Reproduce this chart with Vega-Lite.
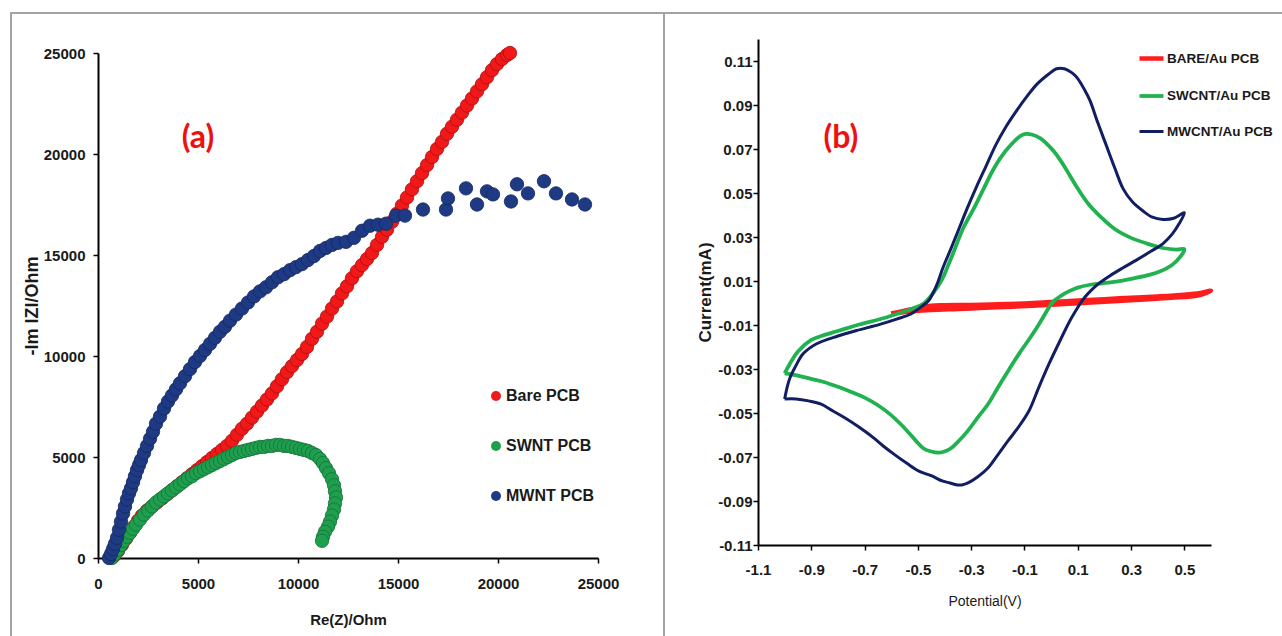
{
  "$schema": "https://vega.github.io/schema/vega-lite/v6.json",
  "padding": {"left": 10, "top": 12, "right": 0, "bottom": 0},
  "spacing": 0,
  "bounds": "flush",
  "background": "white",
  "resolve": {"scale": {"color": "independent", "stroke": "independent", "strokeWidth": "independent"}, "legend": {"color": "independent", "stroke": "independent", "strokeWidth": "independent"}},
  "config": {
    "view": {"stroke": "#a3a3a3", "strokeWidth": 2},
    "axis": {"grid": false, "domainColor": "#000000", "domainWidth": 2, "tickColor": "#000000", "tickWidth": 1.5, "tickSize": 5, "labelColor": "#1a1a1a", "titleColor": "#1a1a1a", "labelFlush": false, "labelOverlap": false, "labelFont": "Liberation Sans", "labelFontWeight": "bold", "labelFontSize": 15, "titleFont": "Liberation Sans", "titleFontWeight": "bold", "titleFontSize": 15},
    "legend": {"labelFont": "Liberation Sans", "labelFontWeight": "bold", "labelColor": "#1a1a1a"}
  },
  "datasets": {
    "eis": [
      {"s":"Bare PCB","re":800,"im":100},{"s":"Bare PCB","re":1000,"im":350},{"s":"Bare PCB","re":1200,"im":650},{"s":"Bare PCB","re":1400,"im":950},{"s":"Bare PCB","re":1600,"im":1250},{"s":"Bare PCB","re":1800,"im":1550},{"s":"Bare PCB","re":2000,"im":1850},{"s":"Bare PCB","re":2200,"im":2100},{"s":"Bare PCB","re":2450,"im":2350},{"s":"Bare PCB","re":2700,"im":2550},{"s":"Bare PCB","re":2950,"im":2750},{"s":"Bare PCB","re":3200,"im":2950},{"s":"Bare PCB","re":3450,"im":3150},{"s":"Bare PCB","re":3700,"im":3350},{"s":"Bare PCB","re":3950,"im":3550},{"s":"Bare PCB","re":4200,"im":3750},{"s":"Bare PCB","re":4450,"im":3950},{"s":"Bare PCB","re":4700,"im":4150},{"s":"Bare PCB","re":4950,"im":4350},{"s":"Bare PCB","re":5200,"im":4550},{"s":"Bare PCB","re":5450,"im":4750},{"s":"Bare PCB","re":5700,"im":4950},{"s":"Bare PCB","re":5950,"im":5150},{"s":"Bare PCB","re":6200,"im":5350},{"s":"Bare PCB","re":6450,"im":5550},{"s":"Bare PCB","re":6700,"im":5800},{"s":"Bare PCB","re":6950,"im":6100},{"s":"Bare PCB","re":7200,"im":6400},{"s":"Bare PCB","re":7450,"im":6650},{"s":"Bare PCB","re":7700,"im":6950},{"s":"Bare PCB","re":7950,"im":7250},{"s":"Bare PCB","re":8200,"im":7550},{"s":"Bare PCB","re":8450,"im":7850},{"s":"Bare PCB","re":8700,"im":8150},{"s":"Bare PCB","re":8950,"im":8500},{"s":"Bare PCB","re":9200,"im":8850},{"s":"Bare PCB","re":9450,"im":9200},{"s":"Bare PCB","re":9700,"im":9500},{"s":"Bare PCB","re":9950,"im":9800},{"s":"Bare PCB","re":10200,"im":10100},{"s":"Bare PCB","re":10450,"im":10450},{"s":"Bare PCB","re":10700,"im":10850},{"s":"Bare PCB","re":10950,"im":11200},{"s":"Bare PCB","re":11200,"im":11600},{"s":"Bare PCB","re":11450,"im":11950},{"s":"Bare PCB","re":11700,"im":12350},{"s":"Bare PCB","re":11950,"im":12700},{"s":"Bare PCB","re":12200,"im":13100},{"s":"Bare PCB","re":12450,"im":13450},{"s":"Bare PCB","re":12700,"im":13850},{"s":"Bare PCB","re":12950,"im":14200},{"s":"Bare PCB","re":13200,"im":14500},{"s":"Bare PCB","re":13450,"im":14800},{"s":"Bare PCB","re":13700,"im":15100},{"s":"Bare PCB","re":13950,"im":15500},{"s":"Bare PCB","re":14200,"im":15900},{"s":"Bare PCB","re":14450,"im":16250},{"s":"Bare PCB","re":14700,"im":16650},{"s":"Bare PCB","re":14950,"im":17050},{"s":"Bare PCB","re":15200,"im":17450},{"s":"Bare PCB","re":15450,"im":17850},{"s":"Bare PCB","re":15700,"im":18250},{"s":"Bare PCB","re":15950,"im":18650},{"s":"Bare PCB","re":16200,"im":19050},{"s":"Bare PCB","re":16450,"im":19450},{"s":"Bare PCB","re":16700,"im":19850},{"s":"Bare PCB","re":16950,"im":20250},{"s":"Bare PCB","re":17200,"im":20600},{"s":"Bare PCB","re":17450,"im":21000},{"s":"Bare PCB","re":17700,"im":21350},{"s":"Bare PCB","re":17950,"im":21700},{"s":"Bare PCB","re":18200,"im":22050},{"s":"Bare PCB","re":18450,"im":22400},{"s":"Bare PCB","re":18700,"im":22750},{"s":"Bare PCB","re":18950,"im":23100},{"s":"Bare PCB","re":19200,"im":23450},{"s":"Bare PCB","re":19450,"im":23800},{"s":"Bare PCB","re":19700,"im":24150},{"s":"Bare PCB","re":19950,"im":24450},{"s":"Bare PCB","re":20200,"im":24700},{"s":"Bare PCB","re":20450,"im":24900},{"s":"Bare PCB","re":20600,"im":25000},
      {"s":"SWNT PCB","re":700,"im":0},{"s":"SWNT PCB","re":850,"im":200},{"s":"SWNT PCB","re":1000,"im":400},{"s":"SWNT PCB","re":1150,"im":650},{"s":"SWNT PCB","re":1300,"im":850},{"s":"SWNT PCB","re":1450,"im":1050},{"s":"SWNT PCB","re":1600,"im":1250},{"s":"SWNT PCB","re":1750,"im":1450},{"s":"SWNT PCB","re":1900,"im":1650},{"s":"SWNT PCB","re":2100,"im":1900},{"s":"SWNT PCB","re":2300,"im":2150},{"s":"SWNT PCB","re":2500,"im":2350},{"s":"SWNT PCB","re":2700,"im":2550},{"s":"SWNT PCB","re":2900,"im":2750},{"s":"SWNT PCB","re":3100,"im":2900},{"s":"SWNT PCB","re":3300,"im":3050},{"s":"SWNT PCB","re":3500,"im":3200},{"s":"SWNT PCB","re":3700,"im":3350},{"s":"SWNT PCB","re":3900,"im":3500},{"s":"SWNT PCB","re":4100,"im":3650},{"s":"SWNT PCB","re":4300,"im":3800},{"s":"SWNT PCB","re":4500,"im":3950},{"s":"SWNT PCB","re":4700,"im":4050},{"s":"SWNT PCB","re":4900,"im":4200},{"s":"SWNT PCB","re":5100,"im":4300},{"s":"SWNT PCB","re":5300,"im":4400},{"s":"SWNT PCB","re":5500,"im":4500},{"s":"SWNT PCB","re":5700,"im":4600},{"s":"SWNT PCB","re":5900,"im":4700},{"s":"SWNT PCB","re":6100,"im":4800},{"s":"SWNT PCB","re":6300,"im":4900},{"s":"SWNT PCB","re":6500,"im":5000},{"s":"SWNT PCB","re":6700,"im":5100},{"s":"SWNT PCB","re":6900,"im":5200},{"s":"SWNT PCB","re":7100,"im":5250},{"s":"SWNT PCB","re":7300,"im":5300},{"s":"SWNT PCB","re":7500,"im":5350},{"s":"SWNT PCB","re":7700,"im":5400},{"s":"SWNT PCB","re":7900,"im":5450},{"s":"SWNT PCB","re":8100,"im":5500},{"s":"SWNT PCB","re":8300,"im":5500},{"s":"SWNT PCB","re":8500,"im":5550},{"s":"SWNT PCB","re":8700,"im":5550},{"s":"SWNT PCB","re":8900,"im":5600},{"s":"SWNT PCB","re":9100,"im":5600},{"s":"SWNT PCB","re":9300,"im":5550},{"s":"SWNT PCB","re":9500,"im":5550},{"s":"SWNT PCB","re":9700,"im":5500},{"s":"SWNT PCB","re":9900,"im":5450},{"s":"SWNT PCB","re":10100,"im":5400},{"s":"SWNT PCB","re":10300,"im":5350},{"s":"SWNT PCB","re":10500,"im":5300},{"s":"SWNT PCB","re":10700,"im":5200},{"s":"SWNT PCB","re":10900,"im":5100},{"s":"SWNT PCB","re":11100,"im":4900},{"s":"SWNT PCB","re":11250,"im":4700},{"s":"SWNT PCB","re":11400,"im":4450},{"s":"SWNT PCB","re":11550,"im":4200},{"s":"SWNT PCB","re":11700,"im":3900},{"s":"SWNT PCB","re":11800,"im":3600},{"s":"SWNT PCB","re":11850,"im":3300},{"s":"SWNT PCB","re":11900,"im":3000},{"s":"SWNT PCB","re":11850,"im":2700},{"s":"SWNT PCB","re":11800,"im":2400},{"s":"SWNT PCB","re":11700,"im":2100},{"s":"SWNT PCB","re":11600,"im":1800},{"s":"SWNT PCB","re":11500,"im":1550},{"s":"SWNT PCB","re":11350,"im":1300},{"s":"SWNT PCB","re":11250,"im":1050},{"s":"SWNT PCB","re":11200,"im":850},
      {"s":"MWNT PCB","re":550,"im":0},{"s":"MWNT PCB","re":650,"im":200},{"s":"MWNT PCB","re":750,"im":450},{"s":"MWNT PCB","re":850,"im":700},{"s":"MWNT PCB","re":950,"im":1000},{"s":"MWNT PCB","re":1050,"im":1400},{"s":"MWNT PCB","re":1150,"im":1800},{"s":"MWNT PCB","re":1250,"im":2200},{"s":"MWNT PCB","re":1350,"im":2550},{"s":"MWNT PCB","re":1450,"im":2900},{"s":"MWNT PCB","re":1550,"im":3200},{"s":"MWNT PCB","re":1650,"im":3450},{"s":"MWNT PCB","re":1750,"im":3750},{"s":"MWNT PCB","re":1850,"im":4050},{"s":"MWNT PCB","re":1950,"im":4350},{"s":"MWNT PCB","re":2050,"im":4600},{"s":"MWNT PCB","re":2150,"im":4850},{"s":"MWNT PCB","re":2300,"im":5200},{"s":"MWNT PCB","re":2450,"im":5550},{"s":"MWNT PCB","re":2600,"im":5900},{"s":"MWNT PCB","re":2750,"im":6250},{"s":"MWNT PCB","re":2900,"im":6650},{"s":"MWNT PCB","re":3100,"im":7000},{"s":"MWNT PCB","re":3300,"im":7400},{"s":"MWNT PCB","re":3500,"im":7750},{"s":"MWNT PCB","re":3700,"im":8050},{"s":"MWNT PCB","re":3900,"im":8350},{"s":"MWNT PCB","re":4100,"im":8650},{"s":"MWNT PCB","re":4350,"im":9000},{"s":"MWNT PCB","re":4600,"im":9350},{"s":"MWNT PCB","re":4850,"im":9700},{"s":"MWNT PCB","re":5100,"im":10000},{"s":"MWNT PCB","re":5350,"im":10300},{"s":"MWNT PCB","re":5600,"im":10600},{"s":"MWNT PCB","re":5850,"im":10900},{"s":"MWNT PCB","re":6100,"im":11200},{"s":"MWNT PCB","re":6350,"im":11450},{"s":"MWNT PCB","re":6600,"im":11750},{"s":"MWNT PCB","re":6900,"im":12050},{"s":"MWNT PCB","re":7200,"im":12350},{"s":"MWNT PCB","re":7500,"im":12650},{"s":"MWNT PCB","re":7800,"im":12950},{"s":"MWNT PCB","re":8100,"im":13200},{"s":"MWNT PCB","re":8400,"im":13400},{"s":"MWNT PCB","re":8700,"im":13650},{"s":"MWNT PCB","re":9000,"im":13900},{"s":"MWNT PCB","re":9300,"im":14050},{"s":"MWNT PCB","re":9600,"im":14250},{"s":"MWNT PCB","re":9900,"im":14400},{"s":"MWNT PCB","re":10200,"im":14550},{"s":"MWNT PCB","re":10500,"im":14750},{"s":"MWNT PCB","re":10800,"im":14950},{"s":"MWNT PCB","re":11100,"im":15200},{"s":"MWNT PCB","re":11400,"im":15350},{"s":"MWNT PCB","re":11700,"im":15500},{"s":"MWNT PCB","re":12000,"im":15600},{"s":"MWNT PCB","re":12400,"im":15650},{"s":"MWNT PCB","re":12800,"im":15850},{"s":"MWNT PCB","re":13200,"im":16200},{"s":"MWNT PCB","re":13600,"im":16450},{"s":"MWNT PCB","re":14000,"im":16500},{"s":"MWNT PCB","re":14400,"im":16550},{"s":"MWNT PCB","re":14900,"im":16950},{"s":"MWNT PCB","re":15350,"im":16950},{"s":"MWNT PCB","re":16250,"im":17250},{"s":"MWNT PCB","re":17400,"im":17250},{"s":"MWNT PCB","re":17500,"im":17800},{"s":"MWNT PCB","re":18400,"im":18300},{"s":"MWNT PCB","re":18950,"im":17500},{"s":"MWNT PCB","re":19450,"im":18150},{"s":"MWNT PCB","re":19750,"im":18000},{"s":"MWNT PCB","re":20650,"im":17650},{"s":"MWNT PCB","re":20950,"im":18500},{"s":"MWNT PCB","re":21500,"im":18050},{"s":"MWNT PCB","re":22300,"im":18650},{"s":"MWNT PCB","re":22900,"im":18050},{"s":"MWNT PCB","re":23700,"im":17750},{"s":"MWNT PCB","re":24350,"im":17500}
    ],
    "cv": [
      {"s":"BARE/Au PCB","k":0,"v":-0.6,"i":-0.0048},{"s":"BARE/Au PCB","k":1,"v":-0.55,"i":-0.0035},{"s":"BARE/Au PCB","k":2,"v":-0.5,"i":-0.0022},{"s":"BARE/Au PCB","k":3,"v":-0.45,"i":-0.0012},{"s":"BARE/Au PCB","k":4,"v":-0.4,"i":-0.001},{"s":"BARE/Au PCB","k":5,"v":-0.3,"i":-0.0009},{"s":"BARE/Au PCB","k":6,"v":-0.2,"i":-0.0006},{"s":"BARE/Au PCB","k":7,"v":-0.1,"i":-0.0002},{"s":"BARE/Au PCB","k":8,"v":0.0,"i":0.0004},{"s":"BARE/Au PCB","k":9,"v":0.1,"i":0.0011},{"s":"BARE/Au PCB","k":10,"v":0.2,"i":0.0017},{"s":"BARE/Au PCB","k":11,"v":0.3,"i":0.0024},{"s":"BARE/Au PCB","k":12,"v":0.4,"i":0.003},{"s":"BARE/Au PCB","k":13,"v":0.5,"i":0.0038},{"s":"BARE/Au PCB","k":14,"v":0.56,"i":0.0046},{"s":"BARE/Au PCB","k":15,"v":0.6,"i":0.0056},{"s":"BARE/Au PCB","k":16,"v":0.55,"i":0.0034},{"s":"BARE/Au PCB","k":17,"v":0.45,"i":0.0024},{"s":"BARE/Au PCB","k":18,"v":0.35,"i":0.0016},{"s":"BARE/Au PCB","k":19,"v":0.25,"i":0.0009},{"s":"BARE/Au PCB","k":20,"v":0.15,"i":0.0002},{"s":"BARE/Au PCB","k":21,"v":0.05,"i":-0.0005},{"s":"BARE/Au PCB","k":22,"v":-0.05,"i":-0.0011},{"s":"BARE/Au PCB","k":23,"v":-0.15,"i":-0.0017},{"s":"BARE/Au PCB","k":24,"v":-0.25,"i":-0.0022},{"s":"BARE/Au PCB","k":25,"v":-0.35,"i":-0.0027},{"s":"BARE/Au PCB","k":26,"v":-0.45,"i":-0.0032},{"s":"BARE/Au PCB","k":27,"v":-0.52,"i":-0.0038},{"s":"BARE/Au PCB","k":28,"v":-0.57,"i":-0.0044},{"s":"BARE/Au PCB","k":29,"v":-0.6,"i":-0.0048},
      {"s":"SWCNT/Au PCB","k":0,"v":-1.0,"i":-0.032},{"s":"SWCNT/Au PCB","k":1,"v":-0.975,"i":-0.0265},{"s":"SWCNT/Au PCB","k":2,"v":-0.95,"i":-0.022},{"s":"SWCNT/Au PCB","k":3,"v":-0.9,"i":-0.0168},{"s":"SWCNT/Au PCB","k":4,"v":-0.85,"i":-0.0145},{"s":"SWCNT/Au PCB","k":5,"v":-0.8,"i":-0.0127},{"s":"SWCNT/Au PCB","k":6,"v":-0.72,"i":-0.0098},{"s":"SWCNT/Au PCB","k":7,"v":-0.64,"i":-0.0073},{"s":"SWCNT/Au PCB","k":8,"v":-0.58,"i":-0.005},{"s":"SWCNT/Au PCB","k":9,"v":-0.526,"i":-0.0028},{"s":"SWCNT/Au PCB","k":10,"v":-0.477,"i":-0.0001},{"s":"SWCNT/Au PCB","k":11,"v":-0.44,"i":0.005},{"s":"SWCNT/Au PCB","k":12,"v":-0.41,"i":0.0105},{"s":"SWCNT/Au PCB","k":13,"v":-0.39,"i":0.016},{"s":"SWCNT/Au PCB","k":14,"v":-0.36,"i":0.025},{"s":"SWCNT/Au PCB","k":15,"v":-0.33,"i":0.034},{"s":"SWCNT/Au PCB","k":16,"v":-0.29,"i":0.043},{"s":"SWCNT/Au PCB","k":17,"v":-0.253,"i":0.052},{"s":"SWCNT/Au PCB","k":18,"v":-0.22,"i":0.06},{"s":"SWCNT/Au PCB","k":19,"v":-0.19,"i":0.066},{"s":"SWCNT/Au PCB","k":20,"v":-0.15,"i":0.072},{"s":"SWCNT/Au PCB","k":21,"v":-0.12,"i":0.0755},{"s":"SWCNT/Au PCB","k":22,"v":-0.1,"i":0.0768},{"s":"SWCNT/Au PCB","k":23,"v":-0.07,"i":0.0765},{"s":"SWCNT/Au PCB","k":24,"v":-0.04,"i":0.0748},{"s":"SWCNT/Au PCB","k":25,"v":-0.02,"i":0.0728},{"s":"SWCNT/Au PCB","k":26,"v":0.01,"i":0.069},{"s":"SWCNT/Au PCB","k":27,"v":0.037,"i":0.0645},{"s":"SWCNT/Au PCB","k":28,"v":0.07,"i":0.058},{"s":"SWCNT/Au PCB","k":29,"v":0.1,"i":0.052},{"s":"SWCNT/Au PCB","k":30,"v":0.14,"i":0.045},{"s":"SWCNT/Au PCB","k":31,"v":0.19,"i":0.0387},{"s":"SWCNT/Au PCB","k":32,"v":0.24,"i":0.0335},{"s":"SWCNT/Au PCB","k":33,"v":0.3,"i":0.0296},{"s":"SWCNT/Au PCB","k":34,"v":0.36,"i":0.027},{"s":"SWCNT/Au PCB","k":35,"v":0.42,"i":0.025},{"s":"SWCNT/Au PCB","k":36,"v":0.47,"i":0.0243},{"s":"SWCNT/Au PCB","k":37,"v":0.5,"i":0.0245},{"s":"SWCNT/Au PCB","k":38,"v":0.47,"i":0.019},{"s":"SWCNT/Au PCB","k":39,"v":0.43,"i":0.0155},{"s":"SWCNT/Au PCB","k":40,"v":0.375,"i":0.013},{"s":"SWCNT/Au PCB","k":41,"v":0.3,"i":0.011},{"s":"SWCNT/Au PCB","k":42,"v":0.23,"i":0.0095},{"s":"SWCNT/Au PCB","k":43,"v":0.146,"i":0.0083},{"s":"SWCNT/Au PCB","k":44,"v":0.1,"i":0.007},{"s":"SWCNT/Au PCB","k":45,"v":0.07,"i":0.0055},{"s":"SWCNT/Au PCB","k":46,"v":0.04,"i":0.0035},{"s":"SWCNT/Au PCB","k":47,"v":0.007,"i":0.0005},{"s":"SWCNT/Au PCB","k":48,"v":-0.023,"i":-0.005},{"s":"SWCNT/Au PCB","k":49,"v":-0.045,"i":-0.0095},{"s":"SWCNT/Au PCB","k":50,"v":-0.08,"i":-0.016},{"s":"SWCNT/Au PCB","k":51,"v":-0.12,"i":-0.023},{"s":"SWCNT/Au PCB","k":52,"v":-0.162,"i":-0.031},{"s":"SWCNT/Au PCB","k":53,"v":-0.2,"i":-0.0385},{"s":"SWCNT/Au PCB","k":54,"v":-0.237,"i":-0.046},{"s":"SWCNT/Au PCB","k":55,"v":-0.275,"i":-0.052},{"s":"SWCNT/Au PCB","k":56,"v":-0.312,"i":-0.058},{"s":"SWCNT/Au PCB","k":57,"v":-0.345,"i":-0.0625},{"s":"SWCNT/Au PCB","k":58,"v":-0.376,"i":-0.066},{"s":"SWCNT/Au PCB","k":59,"v":-0.4,"i":-0.0675},{"s":"SWCNT/Au PCB","k":60,"v":-0.42,"i":-0.068},{"s":"SWCNT/Au PCB","k":61,"v":-0.45,"i":-0.0675},{"s":"SWCNT/Au PCB","k":62,"v":-0.48,"i":-0.066},{"s":"SWCNT/Au PCB","k":63,"v":-0.505,"i":-0.063},{"s":"SWCNT/Au PCB","k":64,"v":-0.53,"i":-0.0595},{"s":"SWCNT/Au PCB","k":65,"v":-0.565,"i":-0.055},{"s":"SWCNT/Au PCB","k":66,"v":-0.605,"i":-0.0505},{"s":"SWCNT/Au PCB","k":67,"v":-0.65,"i":-0.0465},{"s":"SWCNT/Au PCB","k":68,"v":-0.7,"i":-0.043},{"s":"SWCNT/Au PCB","k":69,"v":-0.75,"i":-0.0405},{"s":"SWCNT/Au PCB","k":70,"v":-0.803,"i":-0.038},{"s":"SWCNT/Au PCB","k":71,"v":-0.85,"i":-0.036},{"s":"SWCNT/Au PCB","k":72,"v":-0.897,"i":-0.0346},{"s":"SWCNT/Au PCB","k":73,"v":-0.95,"i":-0.033},{"s":"SWCNT/Au PCB","k":74,"v":-1.0,"i":-0.032},
      {"s":"MWCNT/Au PCB","k":0,"v":-1.0,"i":-0.0436},{"s":"MWCNT/Au PCB","k":1,"v":-0.99,"i":-0.038},{"s":"MWCNT/Au PCB","k":2,"v":-0.98,"i":-0.034},{"s":"MWCNT/Au PCB","k":3,"v":-0.96,"i":-0.029},{"s":"MWCNT/Au PCB","k":4,"v":-0.93,"i":-0.023},{"s":"MWCNT/Au PCB","k":5,"v":-0.88,"i":-0.0185},{"s":"MWCNT/Au PCB","k":6,"v":-0.8,"i":-0.015},{"s":"MWCNT/Au PCB","k":7,"v":-0.73,"i":-0.0125},{"s":"MWCNT/Au PCB","k":8,"v":-0.64,"i":-0.0096},{"s":"MWCNT/Au PCB","k":9,"v":-0.58,"i":-0.0073},{"s":"MWCNT/Au PCB","k":10,"v":-0.526,"i":-0.005},{"s":"MWCNT/Au PCB","k":11,"v":-0.49,"i":-0.002},{"s":"MWCNT/Au PCB","k":12,"v":-0.46,"i":0.001},{"s":"MWCNT/Au PCB","k":13,"v":-0.43,"i":0.008},{"s":"MWCNT/Au PCB","k":14,"v":-0.406,"i":0.016},{"s":"MWCNT/Au PCB","k":15,"v":-0.375,"i":0.025},{"s":"MWCNT/Au PCB","k":16,"v":-0.345,"i":0.034},{"s":"MWCNT/Au PCB","k":17,"v":-0.315,"i":0.043},{"s":"MWCNT/Au PCB","k":18,"v":-0.283,"i":0.052},{"s":"MWCNT/Au PCB","k":19,"v":-0.245,"i":0.062},{"s":"MWCNT/Au PCB","k":20,"v":-0.207,"i":0.072},{"s":"MWCNT/Au PCB","k":21,"v":-0.17,"i":0.08},{"s":"MWCNT/Au PCB","k":22,"v":-0.132,"i":0.087},{"s":"MWCNT/Au PCB","k":23,"v":-0.09,"i":0.094},{"s":"MWCNT/Au PCB","k":24,"v":-0.053,"i":0.0995},{"s":"MWCNT/Au PCB","k":25,"v":-0.01,"i":0.104},{"s":"MWCNT/Au PCB","k":26,"v":0.02,"i":0.1065},{"s":"MWCNT/Au PCB","k":27,"v":0.05,"i":0.1065},{"s":"MWCNT/Au PCB","k":28,"v":0.08,"i":0.1045},{"s":"MWCNT/Au PCB","k":29,"v":0.1,"i":0.102},{"s":"MWCNT/Au PCB","k":30,"v":0.125,"i":0.097},{"s":"MWCNT/Au PCB","k":31,"v":0.146,"i":0.092},{"s":"MWCNT/Au PCB","k":32,"v":0.175,"i":0.082},{"s":"MWCNT/Au PCB","k":33,"v":0.206,"i":0.072},{"s":"MWCNT/Au PCB","k":34,"v":0.24,"i":0.061},{"s":"MWCNT/Au PCB","k":35,"v":0.27,"i":0.052},{"s":"MWCNT/Au PCB","k":36,"v":0.305,"i":0.046},{"s":"MWCNT/Au PCB","k":37,"v":0.345,"i":0.0418},{"s":"MWCNT/Au PCB","k":38,"v":0.38,"i":0.039},{"s":"MWCNT/Au PCB","k":39,"v":0.42,"i":0.038},{"s":"MWCNT/Au PCB","k":40,"v":0.46,"i":0.0385},{"s":"MWCNT/Au PCB","k":41,"v":0.5,"i":0.041},{"s":"MWCNT/Au PCB","k":42,"v":0.48,"i":0.036},{"s":"MWCNT/Au PCB","k":43,"v":0.455,"i":0.0314},{"s":"MWCNT/Au PCB","k":44,"v":0.42,"i":0.027},{"s":"MWCNT/Au PCB","k":45,"v":0.376,"i":0.0236},{"s":"MWCNT/Au PCB","k":46,"v":0.32,"i":0.0195},{"s":"MWCNT/Au PCB","k":47,"v":0.27,"i":0.016},{"s":"MWCNT/Au PCB","k":48,"v":0.22,"i":0.0123},{"s":"MWCNT/Au PCB","k":49,"v":0.176,"i":0.0086},{"s":"MWCNT/Au PCB","k":50,"v":0.14,"i":0.0045},{"s":"MWCNT/Au PCB","k":51,"v":0.116,"i":0.001},{"s":"MWCNT/Au PCB","k":52,"v":0.09,"i":-0.004},{"s":"MWCNT/Au PCB","k":53,"v":0.07,"i":-0.0082},{"s":"MWCNT/Au PCB","k":54,"v":0.03,"i":-0.018},{"s":"MWCNT/Au PCB","k":55,"v":-0.008,"i":-0.0277},{"s":"MWCNT/Au PCB","k":56,"v":-0.045,"i":-0.038},{"s":"MWCNT/Au PCB","k":57,"v":-0.083,"i":-0.049},{"s":"MWCNT/Au PCB","k":58,"v":-0.12,"i":-0.056},{"s":"MWCNT/Au PCB","k":59,"v":-0.162,"i":-0.0627},{"s":"MWCNT/Au PCB","k":60,"v":-0.2,"i":-0.069},{"s":"MWCNT/Au PCB","k":61,"v":-0.237,"i":-0.075},{"s":"MWCNT/Au PCB","k":62,"v":-0.275,"i":-0.079},{"s":"MWCNT/Au PCB","k":63,"v":-0.312,"i":-0.0818},{"s":"MWCNT/Au PCB","k":64,"v":-0.335,"i":-0.0827},{"s":"MWCNT/Au PCB","k":65,"v":-0.353,"i":-0.0827},{"s":"MWCNT/Au PCB","k":66,"v":-0.38,"i":-0.0818},{"s":"MWCNT/Au PCB","k":67,"v":-0.406,"i":-0.081},{"s":"MWCNT/Au PCB","k":68,"v":-0.45,"i":-0.0785},{"s":"MWCNT/Au PCB","k":69,"v":-0.496,"i":-0.0764},{"s":"MWCNT/Au PCB","k":70,"v":-0.54,"i":-0.073},{"s":"MWCNT/Au PCB","k":71,"v":-0.59,"i":-0.0687},{"s":"MWCNT/Au PCB","k":72,"v":-0.63,"i":-0.065},{"s":"MWCNT/Au PCB","k":73,"v":-0.665,"i":-0.0614},{"s":"MWCNT/Au PCB","k":74,"v":-0.72,"i":-0.0565},{"s":"MWCNT/Au PCB","k":75,"v":-0.773,"i":-0.0523},{"s":"MWCNT/Au PCB","k":76,"v":-0.82,"i":-0.049},{"s":"MWCNT/Au PCB","k":77,"v":-0.863,"i":-0.046},{"s":"MWCNT/Au PCB","k":78,"v":-0.91,"i":-0.0445},{"s":"MWCNT/Au PCB","k":79,"v":-0.957,"i":-0.0436},{"s":"MWCNT/Au PCB","k":80,"v":-1.0,"i":-0.0436}
    ]
  },
  "hconcat": [
    {
      "width": 653,
      "height": 640,
      "layer": [
        {
          "data": {"name": "eis"},
          "mark": {"type": "point", "filled": true, "size": 180, "opacity": 1, "strokeWidth": 0.8, "shape": "circle"},
          "encoding": {
            "x": {"field": "re", "type": "quantitative", "scale": {"domain": [0, 25000], "range": [87, 587], "nice": false, "zero": false},
                  "axis": {"values": [0, 5000, 10000, 15000, 20000, 25000], "format": "d", "offset": -95, "title": "Re(Z)/Ohm", "labelPadding": 13, "titlePadding": 21}},
            "y": {"field": "im", "type": "quantitative", "scale": {"domain": [0, 25000], "range": [545, 40], "nice": false, "zero": false},
                  "axis": {"values": [0, 5000, 10000, 15000, 20000, 25000], "format": "d", "offset": -87, "title": "-Im IZI/Ohm", "titleFontSize": 18, "labelPadding": 8, "titlePadding": 2}},
            "color": {"field": "s", "type": "nominal", "scale": {"domain": ["Bare PCB", "SWNT PCB", "MWNT PCB"], "range": ["#f01818", "#1f9e4e", "#1f3a84"]},
                      "legend": {"title": null, "orient": "none", "legendX": 477, "legendY": 375, "symbolSize": 100, "symbolType": "circle", "labelFontSize": 16, "rowPadding": 34, "labelOffset": 2, "symbolStrokeWidth": 0}},
            "stroke": {"field": "s", "type": "nominal", "scale": {"domain": ["Bare PCB", "SWNT PCB", "MWNT PCB"], "range": ["#b00c0c", "#137238", "#14285e"]}, "legend": null}
          }
        },
        {
          "data": {"values": [{"label": "(a)", "re": 5000, "im": 20790}]},
          "mark": {"type": "text", "font": "Lato", "fontWeight": "bold", "fontSize": 32, "color": "#ee1111", "align": "center", "baseline": "middle"},
          "encoding": {
            "x": {"field": "re", "type": "quantitative"},
            "y": {"field": "im", "type": "quantitative"},
            "text": {"field": "label"}
          }
        }
      ]
    },
    {
      "width": 640,
      "height": 640,
      "layer": [
        {
          "data": {"name": "cv"},
          "mark": {"type": "line", "interpolate": "catmull-rom"},
          "encoding": {
            "x": {"field": "v", "type": "quantitative", "scale": {"domain": [-1.1, 0.6], "range": [94, 547], "nice": false, "zero": false},
                  "axis": {"values": [-1.1, -0.9, -0.7, -0.5, -0.3, -0.1, 0.1, 0.3, 0.5], "format": ".1f", "labelExpr": "replace(datum.label, '\u2212', '-')", "offset": -108, "title": "Potential(V)", "titleFontWeight": "normal", "titleFontSize": 14, "labelPadding": 12, "titlePadding": 17}},
            "y": {"field": "i", "type": "quantitative", "scale": {"domain": [-0.11, 0.12], "range": [532, 26], "nice": false, "zero": false},
                  "axis": {"values": [-0.11, -0.09, -0.07, -0.05, -0.03, -0.01, 0.01, 0.03, 0.05, 0.07, 0.09, 0.11], "format": ".2f", "labelExpr": "replace(datum.label, '\u2212', '-')", "offset": -94, "title": "Current(mA)", "titleFontSize": 17, "labelPadding": 1, "titlePadding": 3}},
            "color": {"field": "s", "type": "nominal", "scale": {"domain": ["BARE/Au PCB", "SWCNT/Au PCB", "MWCNT/Au PCB"], "range": ["#ff1c1c", "#1fb24e", "#111e62"]},
                      "legend": {"title": null, "orient": "none", "legendX": 473, "legendY": 31, "symbolType": "stroke", "symbolSize": 576, "symbolStrokeWidth": 3.5, "labelFontSize": 13.5, "rowPadding": 14, "labelOffset": 1}},
            "strokeWidth": {"field": "s", "type": "nominal", "scale": {"domain": ["BARE/Au PCB", "SWCNT/Au PCB", "MWCNT/Au PCB"], "range": [4.5, 3, 3]}, "legend": null},
            "order": {"field": "k", "type": "quantitative"}
          }
        },
        {
          "data": {"values": [{"label": "(b)", "v": -0.789, "i": 0.075}]},
          "mark": {"type": "text", "font": "Lato", "fontWeight": "bold", "fontSize": 32, "color": "#ee1111", "align": "center", "baseline": "middle"},
          "encoding": {
            "x": {"field": "v", "type": "quantitative"},
            "y": {"field": "i", "type": "quantitative"},
            "text": {"field": "label"}
          }
        }
      ]
    }
  ]
}
